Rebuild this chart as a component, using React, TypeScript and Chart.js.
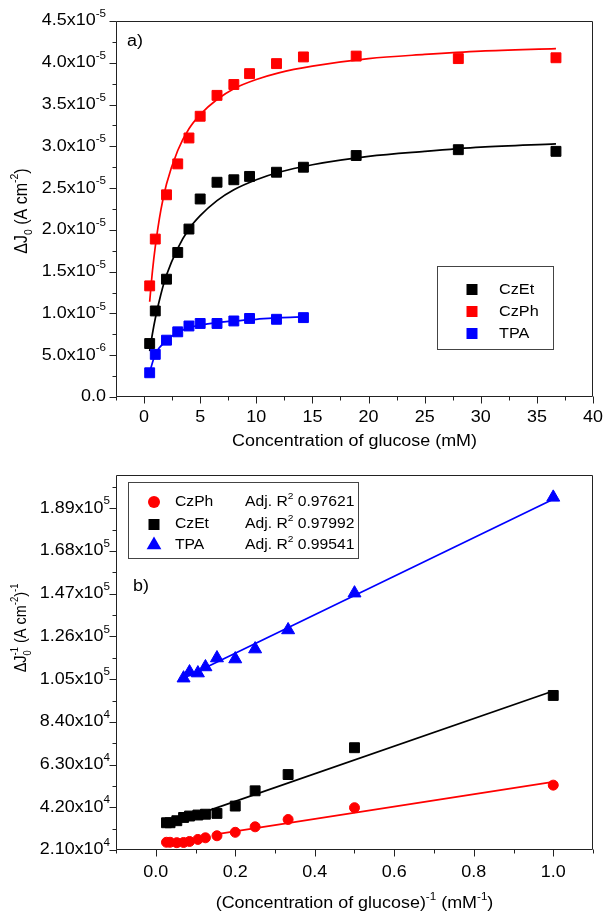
import React, { useEffect, useRef } from 'react';
import { Chart, registerables } from 'chart.js';

Chart.register(...registerables);

// ---------------- Panel a) : ΔJ0 vs concentration (values in 1e-5 A cm-2) ----------------
const concA = [0.5, 1, 2, 3, 4, 5, 6.5, 8, 9.4, 11.8, 14.2, 18.9, 28, 36.7];
const czEtA = [0.64, 1.03, 1.41, 1.73, 2.01, 2.37, 2.57, 2.6, 2.64, 2.69, 2.75, 2.89, 2.96, 2.94];
const czPhA = [1.33, 1.89, 2.42, 2.79, 3.1, 3.36, 3.61, 3.74, 3.87, 3.99, 4.07, 4.08, 4.05, 4.06];
const concTpaA = [0.5, 1, 2, 3, 4, 5, 6.5, 8, 9.4, 11.8, 14.2];
const tpaA = [0.29, 0.51, 0.68, 0.78, 0.85, 0.88, 0.88, 0.91, 0.94, 0.93, 0.95];

// fitted curves
const fitXA = [0.5, 0.75, 1, 1.5, 2, 3, 4, 5, 6.5, 8, 10, 12, 15, 20, 25, 30, 36.7];
const czPhFitA = [1.14, 1.51, 1.8, 2.24, 2.55, 2.95, 3.21, 3.38, 3.56, 3.69, 3.8, 3.88, 3.96, 4.05, 4.1, 4.14, 4.17];
const czEtFitA = [0.55, 0.76, 0.94, 1.23, 1.46, 1.78, 2.01, 2.17, 2.35, 2.48, 2.6, 2.69, 2.78, 2.88, 2.94, 2.99, 3.03];
const tpaFitXA = [0.5, 1, 2, 3, 4, 5, 6.5, 8, 10, 12, 14.2];
const tpaFitA = [0.3, 0.51, 0.68, 0.77, 0.83, 0.86, 0.89, 0.91, 0.93, 0.95, 0.96];

const xMajorA = [0, 5, 10, 15, 20, 25, 30, 35, 40];
const xMinorA = [-2.5, 2.5, 7.5, 12.5, 17.5, 22.5, 27.5, 32.5, 37.5];
const xLabelsA = ['0', '5', '10', '15', '20', '25', '30', '35', '40'];
const yMajorA = [0, 0.5, 1, 1.5, 2, 2.5, 3, 3.5, 4, 4.5];
const yMinorA = [0.25, 0.75, 1.25, 1.75, 2.25, 2.75, 3.25, 3.75, 4.25];
const yLabelsA: [string, string][] = [
  ['0.0', ''], ['5.0x10', '-6'], ['1.0x10', '-5'], ['1.5x10', '-5'], ['2.0x10', '-5'],
  ['2.5x10', '-5'], ['3.0x10', '-5'], ['3.5x10', '-5'], ['4.0x10', '-5'], ['4.5x10', '-5'],
];
const legendNamesA = ['CzEt', 'CzPh', 'TPA'];

// ---------------- Panel b) : 1/ΔJ0 vs 1/concentration (values in 1e4) ----------------
const invConcB = [0.027, 0.036, 0.053, 0.07, 0.085, 0.106, 0.125, 0.154, 0.2, 0.25, 0.333, 0.5, 1.0];
const czPhB = [2.48, 2.48, 2.46, 2.47, 2.52, 2.62, 2.7, 2.8, 2.97, 3.24, 3.6, 4.18, 5.29];
const czEtB = [3.44, 3.44, 3.54, 3.7, 3.77, 3.82, 3.86, 3.9, 4.26, 5.01, 5.81, 7.13, 9.7];
const invConcTpaB = [0.07, 0.085, 0.106, 0.125, 0.154, 0.2, 0.25, 0.333, 0.5, 1.0];
const tpaB = [10.55, 10.85, 10.8, 11.1, 11.54, 11.49, 11.98, 12.92, 14.73, 19.44];

const czPhLineX = [0.15, 1.0];
const czPhLineY = [2.87, 5.45];
const czEtLineX = [0.12, 1.0];
const czEtLineY = [3.95, 9.92];
const tpaLineX = [0.07, 1.0];
const tpaLineY = [10.55, 19.35];

const xMajorB = [0, 0.2, 0.4, 0.6, 0.8, 1.0];
const xMinorB = [-0.1, 0.1, 0.3, 0.5, 0.7, 0.9, 1.1];
const xLabelsB = ['0.0', '0.2', '0.4', '0.6', '0.8', '1.0'];
const yMajorB = [2.1, 4.2, 6.3, 8.4, 10.5, 12.6, 14.7, 16.8, 18.9];
const yMinorB = [3.15, 5.25, 7.35, 9.45, 11.55, 13.65, 15.75, 17.85, 19.95];
const yLabelsB: [string, string][] = [
  ['2.10x10', '4'], ['4.20x10', '4'], ['6.30x10', '4'], ['8.40x10', '4'], ['1.05x10', '5'],
  ['1.26x10', '5'], ['1.47x10', '5'], ['1.68x10', '5'], ['1.89x10', '5'],
];
const legendNamesB = ['CzPh', 'CzEt', 'TPA'];
const legendR2B = ['0.97621', '0.97992', '0.99541'];

// ---------------- styling ----------------
const FONT = 'Arial, "Liberation Sans", Helvetica, sans-serif';
const SX = 1.12; // horizontal stretch of the source figure's lettering
const RED = '#ff0000';
const BLACK = '#000000';
const BLUE = '#0000ff';
const AXIS = '#222222';

type Seg = { t: string; sup?: string; sub?: string };

function measureRich(ctx: CanvasRenderingContext2D, segs: Seg[], size: number) {
  let w = 0;
  for (const s of segs) {
    ctx.font = `${size}px ${FONT}`;
    w += ctx.measureText(s.t).width;
    ctx.font = `${size * 0.65}px ${FONT}`;
    const a = s.sup ? ctx.measureText(s.sup).width : 0;
    const b = s.sub ? ctx.measureText(s.sub).width : 0;
    w += Math.max(a, b);
  }
  return w;
}

function drawRich(
  ctx: CanvasRenderingContext2D,
  segs: Seg[],
  x: number,
  y: number,
  size: number,
  align: 'left' | 'center' | 'right',
  rotated = false
) {
  ctx.save();
  ctx.translate(x, y);
  ctx.scale(SX, 1);
  if (rotated) ctx.rotate(-Math.PI / 2);
  const w = measureRich(ctx, segs, size);
  let cx = align === 'center' ? -w / 2 : align === 'right' ? -w : 0;
  ctx.textBaseline = 'middle';
  ctx.textAlign = 'left';
  ctx.fillStyle = '#000';
  for (const s of segs) {
    ctx.font = `${size}px ${FONT}`;
    ctx.fillText(s.t, cx, 0);
    cx += ctx.measureText(s.t).width;
    ctx.font = `${size * 0.65}px ${FONT}`;
    let a = 0;
    let b = 0;
    if (s.sup) {
      ctx.fillText(s.sup, cx, -size * 0.42);
      a = ctx.measureText(s.sup).width;
    }
    if (s.sub) {
      ctx.fillText(s.sub, cx, size * 0.36);
      b = ctx.measureText(s.sub).width;
    }
    cx += Math.max(a, b);
  }
  ctx.restore();
}

function marker(ctx: CanvasRenderingContext2D, style: string, x: number, y: number, color: string) {
  ctx.save();
  ctx.fillStyle = color;
  ctx.beginPath();
  if (style === 'rect') {
    ctx.rect(x - 5.5, y - 5.5, 11, 11);
  } else if (style === 'circle') {
    ctx.arc(x, y, 6, 0, Math.PI * 2);
  } else {
    const r = 8.5;
    ctx.moveTo(x, y - r);
    ctx.lineTo(x + r * Math.sin((2 * Math.PI) / 3), y - r * Math.cos((2 * Math.PI) / 3));
    ctx.lineTo(x + r * Math.sin((4 * Math.PI) / 3), y - r * Math.cos((4 * Math.PI) / 3));
    ctx.closePath();
  }
  ctx.fill();
  ctx.restore();
}

type AxisSpec = {
  xMajor: number[];
  xMinor: number[];
  xLabels: string[];
  yMajor: number[];
  yMinor: number[];
  yLabels: [string, string][];
  yLabelRight: number;
  xLabelY: number;
};

function drawFrameAndTicks(chart: any, spec: AxisSpec) {
  const ctx: CanvasRenderingContext2D = chart.ctx;
  const { left, right, top, bottom } = chart.chartArea;
  const xs = chart.scales.x;
  const ys = chart.scales.y;
  const L = Math.round(left) + 0.5;
  const R = Math.round(right) - 0.5;
  const T = Math.round(top) + 0.5;
  const B = Math.round(bottom) - 0.5;
  ctx.save();
  ctx.strokeStyle = AXIS;
  ctx.lineWidth = 1;
  ctx.beginPath();
  ctx.rect(L, T, R - L, B - T);
  ctx.stroke();
  ctx.beginPath();
  for (const v of spec.xMajor) {
    const p = Math.round(xs.getPixelForValue(v)) + 0.5;
    ctx.moveTo(p, B);
    ctx.lineTo(p, B + 7);
  }
  for (const v of spec.xMinor) {
    const p = Math.round(xs.getPixelForValue(v)) + 0.5;
    ctx.moveTo(p, B);
    ctx.lineTo(p, B + 4);
  }
  for (const v of spec.yMajor) {
    const p = Math.round(ys.getPixelForValue(v)) + 0.5;
    ctx.moveTo(L, p);
    ctx.lineTo(L - 7, p);
  }
  for (const v of spec.yMinor) {
    const p = Math.round(ys.getPixelForValue(v)) + 0.5;
    ctx.moveTo(L, p);
    ctx.lineTo(L - 4, p);
  }
  ctx.stroke();
  ctx.restore();

  spec.xMajor.forEach((v, i) => {
    drawRich(ctx, [{ t: spec.xLabels[i] }], xs.getPixelForValue(v), spec.xLabelY, 16, 'center');
  });
  spec.yMajor.forEach((v, i) => {
    const [t, sup] = spec.yLabels[i];
    drawRich(ctx, [{ t, sup: sup || undefined }], spec.yLabelRight, ys.getPixelForValue(v), 16, 'right');
  });
}

function pts(xs: number[], ys: number[]) {
  return xs.map((x, i) => ({ x, y: ys[i] }));
}

function pointSet(label: string, xs: number[], ys: number[], color: string, style: string, r: number) {
  return {
    label,
    data: pts(xs, ys),
    showLine: false,
    pointStyle: style,
    pointRadius: r,
    pointBorderWidth: 1,
    pointBackgroundColor: color,
    pointBorderColor: color,
    borderColor: color,
    backgroundColor: color,
    order: 0,
  };
}

function lineSet(label: string, xs: number[], ys: number[], color: string, smooth: boolean) {
  return {
    label,
    data: pts(xs, ys),
    showLine: true,
    pointRadius: 0,
    borderColor: color,
    backgroundColor: color,
    borderWidth: 1.7,
    cubicInterpolationMode: smooth ? 'monotone' : 'default',
    order: 1,
  };
}

function configA(): any {
  const spec: AxisSpec = {
    xMajor: xMajorA,
    xMinor: xMinorA,
    xLabels: xLabelsA,
    yMajor: yMajorA,
    yMinor: yMinorA,
    yLabels: yLabelsA,
    yLabelRight: 106,
    xLabelY: 418,
  };
  return {
    type: 'scatter',
    data: {
      datasets: [
        pointSet('CzEt', concA, czEtA, BLACK, 'rect', 7),
        pointSet('CzPh', concA, czPhA, RED, 'rect', 7),
        pointSet('TPA', concTpaA, tpaA, BLUE, 'rect', 7),
        lineSet('CzPh fit', fitXA, czPhFitA, RED, true),
        lineSet('CzEt fit', fitXA, czEtFitA, BLACK, true),
        lineSet('TPA fit', tpaFitXA, tpaFitA, BLUE, true),
      ],
    },
    options: {
      responsive: false,
      animation: false,
      devicePixelRatio: 1,
      events: [],
      layout: { padding: { left: 116, right: 11, top: 21, bottom: 60 } },
      scales: {
        x: { type: 'linear', min: -2.5, max: 40, display: false },
        y: { type: 'linear', min: 0, max: 4.5, display: false },
      },
      plugins: { legend: { display: false }, tooltip: { enabled: false } },
    },
    plugins: [
      {
        id: 'decorA',
        afterDraw(chart: any) {
          const ctx: CanvasRenderingContext2D = chart.ctx;
          drawFrameAndTicks(chart, spec);
          const { left, right, top, bottom } = chart.chartArea;
          // axis titles
          drawRich(ctx, [{ t: 'Concentration of glucose (mM)' }], (left + right) / 2, 442, 16, 'center');
          drawRich(
            ctx,
            [{ t: 'ΔJ', sub: '0' }, { t: ' (A cm', sup: '-2' }, { t: ')' }],
            22,
            (top + bottom) / 2 + 2,
            16,
            'center',
            true
          );
          drawRich(ctx, [{ t: 'a)' }], 127, 42, 16, 'left');
          // legend
          ctx.save();
          ctx.strokeStyle = '#444';
          ctx.lineWidth = 1;
          ctx.fillStyle = '#fff';
          ctx.fillRect(437.5, 266.5, 116, 83);
          ctx.strokeRect(437.5, 266.5, 116, 83);
          ctx.restore();
          const cols = [BLACK, RED, BLUE];
          const rows = [289.5, 311.5, 333.5];
          legendNamesA.forEach((n, i) => {
            marker(ctx, 'rect', 472, rows[i], cols[i]);
            drawRich(ctx, [{ t: n }], 499, rows[i], 14.5, 'left');
          });
        },
      },
    ],
  };
}

function configB(): any {
  const spec: AxisSpec = {
    xMajor: xMajorB,
    xMinor: xMinorB,
    xLabels: xLabelsB,
    yMajor: yMajorB,
    yMinor: yMinorB,
    yLabels: yLabelsB,
    yLabelRight: 110,
    xLabelY: 416,
  };
  return {
    type: 'scatter',
    data: {
      datasets: [
        pointSet('CzPh', invConcB, czPhB, RED, 'circle', 5),
        pointSet('CzEt', invConcB, czEtB, BLACK, 'rect', 7),
        pointSet('TPA', invConcTpaB, tpaB, BLUE, 'triangle', 7.5),
        lineSet('CzPh fit', czPhLineX, czPhLineY, RED, false),
        lineSet('CzEt fit', czEtLineX, czEtLineY, BLACK, false),
        lineSet('TPA fit', tpaLineX, tpaLineY, BLUE, false),
      ],
    },
    options: {
      responsive: false,
      animation: false,
      devicePixelRatio: 1,
      events: [],
      layout: { padding: { left: 116, right: 11, top: 18, bottom: 64 } },
      scales: {
        x: { type: 'linear', min: -0.1, max: 1.1, display: false },
        y: { type: 'linear', min: 2.1, max: 20.54, display: false },
      },
      plugins: { legend: { display: false }, tooltip: { enabled: false } },
    },
    plugins: [
      {
        id: 'decorB',
        afterDraw(chart: any) {
          const ctx: CanvasRenderingContext2D = chart.ctx;
          drawFrameAndTicks(chart, spec);
          const { left, right } = chart.chartArea;
          drawRich(
            ctx,
            [{ t: '(Concentration of glucose)', sup: '-1' }, { t: ' (mM', sup: '-1' }, { t: ')' }],
            (left + right) / 2,
            447,
            16,
            'center'
          );
          drawRich(
            ctx,
            [{ t: 'ΔJ', sup: '-1', sub: '0' }, { t: ' (A cm', sup: '-2' }, { t: ')', sup: '-1' }],
            22,
            171,
            14.5,
            'center',
            true
          );
          drawRich(ctx, [{ t: 'b)' }], 133, 130, 16, 'left');
          // legend
          ctx.save();
          ctx.strokeStyle = '#444';
          ctx.lineWidth = 1;
          ctx.fillStyle = '#fff';
          ctx.fillRect(128.5, 25.5, 230, 76);
          ctx.strokeRect(128.5, 25.5, 230, 76);
          ctx.restore();
          const cols = [RED, BLACK, BLUE];
          const styles = ['circle', 'rect', 'triangle'];
          const rows = [45, 67.5, 88];
          legendNamesB.forEach((n, i) => {
            marker(ctx, styles[i], 154, rows[i], cols[i]);
            drawRich(ctx, [{ t: n }], 175, rows[i], 14, 'left');
            drawRich(ctx, [{ t: 'Adj. R', sup: '2' }, { t: ' ' + legendR2B[i] }], 245, rows[i], 14, 'left');
          });
        },
      },
    ],
  };
}

export default function App() {
  const refA = useRef<HTMLCanvasElement>(null);
  const refB = useRef<HTMLCanvasElement>(null);
  useEffect(() => {
    const a = new Chart(refA.current as HTMLCanvasElement, configA());
    const b = new Chart(refB.current as HTMLCanvasElement, configB());
    return () => {
      a.destroy();
      b.destroy();
    };
  }, []);
  return (
    <div style={{ position: 'absolute', left: 0, top: 0, width: 604, height: 914, background: '#fff' }}>
      <canvas
        ref={refA}
        width={604}
        height={457}
        style={{ position: 'absolute', left: 0, top: 0, width: 604, height: 457 }}
      />
      <canvas
        ref={refB}
        width={604}
        height={457}
        style={{ position: 'absolute', left: 0, top: 457, width: 604, height: 457 }}
      />
    </div>
  );
}
